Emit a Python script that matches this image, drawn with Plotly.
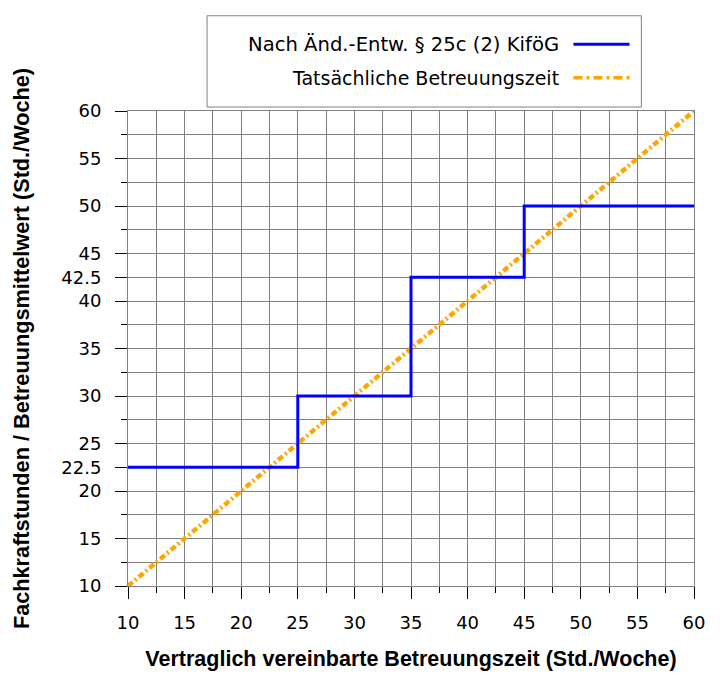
import plotly.graph_objects as go

# step line: contracted care time -> required staff hours (after draft amendment)
step_x = [10, 25, 35, 45, 60]
step_y = [22.5, 30, 42.5, 50, 50]

# actual care time (diagonal)
diag_x = [10, 60]
diag_y = [10, 60]

x_major = [10, 15, 20, 25, 30, 35, 40, 45, 50, 55, 60]
x_minor = [12.5, 17.5, 22.5, 27.5, 32.5, 37.5, 42.5, 47.5, 52.5, 57.5]
y_major = [10, 15, 20, 22.5, 25, 30, 35, 40, 42.5, 45, 50, 55, 60]
y_major_text = ["10", "15", "20", "22.5", "25", "30", "35", "40", "42.5", "45", "50", "55", "60"]
y_minor = [12.5, 17.5, 27.5, 32.5, 37.5, 47.5, 52.5, 57.5]

legend_names = ["Nach Änd.-Entw. § 25c (2) KiföG", "Tatsächliche Betreuungszeit"]

blue = "#0000FF"
orange = "#FFA500"
grid = "#808080"
font = "Liberation Sans, Arial, sans-serif"
wide_font = "DejaVu Sans, Verdana, sans-serif"

fig = go.Figure()
fig.add_trace(go.Scatter(x=diag_x, y=diag_y, mode="lines",
                         line=dict(color=orange, width=4.5, dash="6px,3px,2px,3px"),
                         name=legend_names[1], showlegend=False))
fig.add_trace(go.Scatter(x=step_x, y=step_y, mode="lines", line_shape="hv",
                         line=dict(color=blue, width=3),
                         name=legend_names[0], showlegend=False))

axis_common = dict(
    showgrid=True, gridcolor=grid, gridwidth=1,
    showline=True, linecolor=grid, linewidth=1, mirror=True,
    ticks="outside", ticklen=12, tickcolor="black", tickwidth=1,
    tickfont=dict(family=wide_font, size=18, color="black"),
    zeroline=False, range=[10, 60],
)

fig.update_xaxes(**axis_common, tickmode="array", tickvals=x_major,
                 ticklabelstandoff=8,
                 minor=dict(tickmode="array", tickvals=x_minor, ticks="outside",
                            ticklen=6, tickcolor="black", showgrid=True,
                            gridcolor=grid, gridwidth=1),
                 title=dict(text="<b>Vertraglich vereinbarte Betreuungszeit (Std./Woche)</b>",
                            font=dict(family=font, size=21.5, color="black"), standoff=19))
fig.update_yaxes(**axis_common, tickmode="array", tickvals=y_major, ticktext=y_major_text,
                 ticklabelstandoff=10,
                 minor=dict(tickmode="array", tickvals=y_minor, ticks="outside",
                            ticklen=6, tickcolor="black", showgrid=True,
                            gridcolor=grid, gridwidth=1),
                 title=dict(text="<b>Fachkraftstunden / Betreuungsmittelwert (Std./Woche)</b>",
                            font=dict(family=font, size=21.7, color="black"), standoff=25))

# legend drawn by hand: text right-aligned, line sample on the right
shapes = [
    dict(type="rect", xref="paper", yref="paper", x0=0.1397, x1=0.907, y0=1.0084, y1=1.2005,
         line=dict(color=grid, width=1), fillcolor="white"),
    dict(type="line", xref="paper", yref="paper", x0=0.787, x1=0.886, y0=1.1405, y1=1.1405,
         line=dict(color=blue, width=3)),
    dict(type="line", xref="paper", yref="paper", x0=0.787, x1=0.886, y0=1.070, y1=1.070,
         line=dict(color=orange, width=3.5, dash="9px,4px,3px,4px")),
]
annotations = [
    dict(xref="paper", yref="paper", x=0.7656, y=1.1405, xanchor="right", yanchor="middle",
         text=legend_names[0], showarrow=False, font=dict(family=wide_font, size=19.6, color="black")),
    dict(xref="paper", yref="paper", x=0.7656, y=1.070, xanchor="right", yanchor="middle",
         text=legend_names[1], showarrow=False, font=dict(family=wide_font, size=19, color="black")),
]

fig.update_layout(
    width=725, height=694,
    margin=dict(l=120, r=39, t=103, b=116),
    plot_bgcolor="white", paper_bgcolor="white",
    shapes=shapes, annotations=annotations,
    showlegend=False,
)

fig.write_html("out.html")
